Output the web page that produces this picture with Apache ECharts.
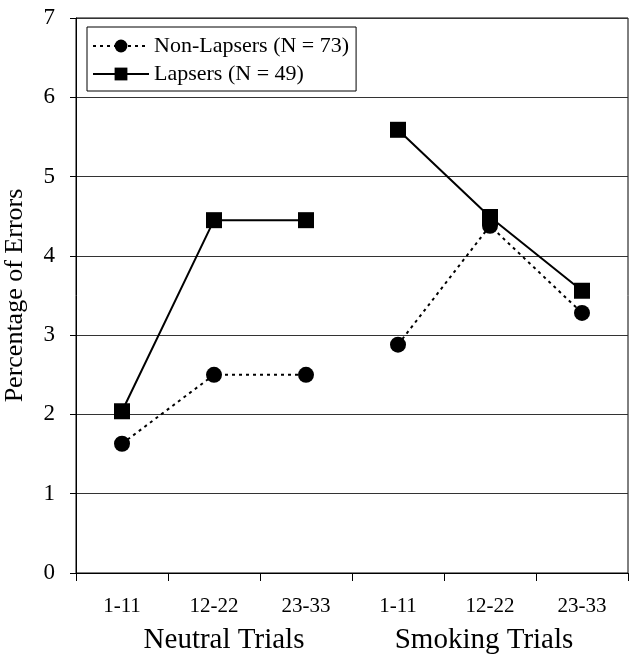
<!DOCTYPE html>
<html><head><meta charset="utf-8">
<script src="https://cdn.jsdelivr.net/npm/echarts@6/dist/echarts.min.js"></script>
<style>html,body{margin:0;padding:0;background:#fff}#c{width:631px;height:659px}</style>
</head><body><div id="c"></div>
<script>
const categories = ['1-11','12-22','23-33','1-11 ','12-22 ','23-33 '];
const groupLabels = ['Neutral Trials','Smoking Trials'];
const nonLapsersName = 'Non-Lapsers (N = 73)';
const lapsersName = 'Lapsers (N = 49)';
const nonLapsersNeutral = [1.63, 2.50, 2.50];
const nonLapsersSmoking = [2.88, 4.38, 3.28];
const lapsersNeutral = [2.04, 4.45, 4.45];
const lapsersSmoking = [5.59, 4.49, 3.56];
const yTicks = [0,1,2,3,4,5,6,7];

const font = '"Liberation Serif","Times New Roman",serif';
const chart = echarts.init(document.getElementById('c'));
function pad(arr, before){ return before ? arr.concat([null,null,null]) : [null,null,null].concat(arr); }
const dotted = {color:'#000', width:2, type:[3,4]};
const solid = {color:'#000', width:2, type:'solid'};
function mk(name, data, ls, sym){
  return {name, type:'line', data, symbol:sym, symbolSize:16, lineStyle:ls,
    itemStyle:{color:'#000'}, connectNulls:false, animation:false, z: sym==='circle'?3:2};
}
chart.setOption({
  animation:false,
  grid:{left:76, right:3, top:18, bottom:86, show:true, borderColor:'#000', borderWidth:1,
        containLabel:false, outerBoundsMode:'none'},
  legend:{
    data:[nonLapsersName, lapsersName], orient:'vertical', left:87, top:27,
    borderColor:'#000', borderWidth:1, padding:[8,7,6,5], itemGap:6,
    itemWidth:56, itemHeight:16, backgroundColor:'#fff',
    textStyle:{fontFamily:font, fontSize:22, color:'#000'}
  },
  xAxis:{type:'category', data:categories, boundaryGap:true,
    axisLine:{lineStyle:{color:'#000', width:1}},
    axisTick:{show:true, length:8, lineStyle:{color:'#000'}},
    axisLabel:{fontFamily:font, fontSize:21, color:'#000', margin:23, formatter:v=>v.trim()}},
  yAxis:{type:'value', min:0, max:7, interval:1,
    name:'Percentage of Errors', nameLocation:'middle', nameGap:48,
    nameTextStyle:{fontFamily:font, fontSize:26, color:'#000'},
    axisLine:{show:true, lineStyle:{color:'#000', width:1}},
    axisTick:{show:true, length:6, lineStyle:{color:'#000'}},
    axisLabel:{fontFamily:font, fontSize:23, color:'#000', margin:21, formatter:v=>yTicks.includes(v)?String(v):''},
    splitLine:{show:true, lineStyle:{color:'#333', width:1}}},
  graphic:[
    {type:'text', x:224, y:640, style:{text:groupLabels[0], font:'29px '+font, fill:'#000', textAlign:'center', textVerticalAlign:'middle'}},
    {type:'text', x:484, y:640, style:{text:groupLabels[1], font:'29px '+font, fill:'#000', textAlign:'center', textVerticalAlign:'middle'}}
  ],
  series:[
    mk(nonLapsersName, pad(nonLapsersNeutral,true), dotted, 'circle'),
    mk(nonLapsersName, pad(nonLapsersSmoking,false), dotted, 'circle'),
    mk(lapsersName, pad(lapsersNeutral,true), solid, 'rect'),
    mk(lapsersName, pad(lapsersSmoking,false), solid, 'rect')
  ]
});
</script></body></html>
